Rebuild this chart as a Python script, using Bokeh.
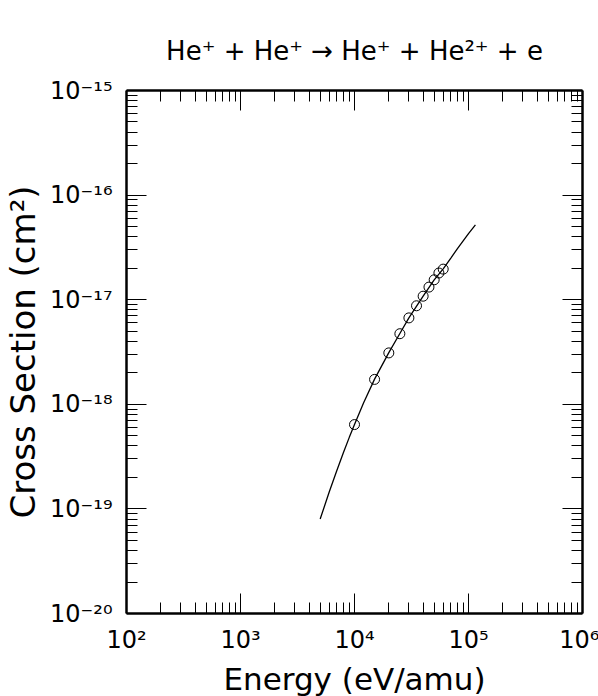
from bokeh.plotting import figure
from bokeh.models import LogAxis, FixedTicker, CustomJSTickFormatter, Range1d
from bokeh.embed import file_html
from bokeh.resources import INLINE

# measured points (Energy in eV/amu, cross section in cm^2)
energy_pts = [1e4, 1.5e4, 2e4, 2.5e4, 3e4, 3.5e4, 4e4, 4.5e4, 5e4, 5.5e4, 6e4]
sigma_pts = [6.4e-19, 1.73e-18, 3.1e-18, 4.73e-18, 6.7e-18, 8.75e-18,
             1.08e-17, 1.32e-17, 1.55e-17, 1.80e-17, 1.96e-17]

# fitted curve
energy_fit = [5e3, 6e3, 7e3, 8e3, 9e3, 1e4, 1.2e4, 1.5e4, 2e4, 2.5e4, 3e4,
              4e4, 5e4, 6e4, 7e4, 8e4, 1e5, 1.15e5]
sigma_fit = [8.0e-20, 1.45e-19, 2.33e-19, 3.46e-19, 4.83e-19, 6.4e-19, 1.03e-18,
             1.74e-18, 3.12e-18, 4.75e-18, 6.7e-18, 1.08e-17, 1.55e-17, 1.97e-17,
             2.5e-17, 3.08e-17, 4.28e-17, 5.2e-17]

x_decades = [1e2, 1e3, 1e4, 1e5, 1e6]
y_decades = [1e-20, 1e-19, 1e-18, 1e-17, 1e-16, 1e-15]
minor_mult = [2, 3, 4, 5, 6, 7, 8, 9]

x_minor = [d * m for d in x_decades[:-1] for m in minor_mult]
y_minor = [d * m for d in y_decades[:-1] for m in minor_mult]

title_text = "He\u207a + He\u207a \u2192 He\u207a + He\u00b2\u207a + e"

FONT = "DejaVu Sans"

p = figure(x_axis_type="log", y_axis_type="log",
           x_range=Range1d(1e2, 1e6), y_range=Range1d(1e-20, 1e-15),
           frame_width=456, frame_height=523,
           min_border_left=117, min_border_right=17,
           min_border_top=90, min_border_bottom=75,
           output_backend="svg", toolbar_location=None,
           title=title_text)

p.title.align = "center"
p.title.text_font = FONT
p.title.text_font_size = "26px"
p.title.text_font_style = "normal"
p.title.text_color = "black"
p.title.standoff = 50

p.outline_line_color = None
p.xgrid.visible = False
p.ygrid.visible = False

sup_code = """
const sup = {"-":"\u207b","0":"\u2070","1":"\u00b9","2":"\u00b2","3":"\u00b3",
             "4":"\u2074","5":"\u2075","6":"\u2076","7":"\u2077","8":"\u2078","9":"\u2079"};
const e = Math.round(Math.log10(tick));
return "10" + String(e).split("").map(c => sup[c]).join("");
"""
fmt = CustomJSTickFormatter(code=sup_code)
blank = CustomJSTickFormatter(code="return '';")

def style_axis(ax, ticks, minor, labels=True):
    ax.ticker = FixedTicker(ticks=ticks, minor_ticks=minor)
    ax.axis_line_width = 2.5
    ax.axis_line_color = "black"
    ax.major_tick_in = 20
    ax.major_tick_out = 0
    ax.minor_tick_in = 11
    ax.minor_tick_out = 0
    ax.major_tick_line_color = "black"
    ax.minor_tick_line_color = "black"
    ax.major_tick_line_width = 1
    ax.minor_tick_line_width = 1
    if labels:
        ax.formatter = fmt
        ax.major_label_text_font = FONT
        ax.major_label_text_font_size = "24px"
        ax.major_label_text_color = "black"
    else:
        ax.formatter = blank
        ax.major_label_standoff = 0

xa = p.xaxis[0]
ya = p.yaxis[0]
style_axis(xa, x_decades, x_minor)
style_axis(ya, y_decades, y_minor)
xa.major_label_standoff = 12
ya.major_label_standoff = 14

xa.axis_label = "Energy (eV/amu)"
xa.axis_label_text_font = FONT
xa.axis_label_text_font_size = "31px"
xa.axis_label_text_font_style = "normal"
xa.axis_label_text_color = "black"
xa.axis_label_standoff = 4

ya.axis_label = "Cross Section (cm\u00b2)"
ya.axis_label_text_font = FONT
ya.axis_label_text_font_size = "34px"
ya.axis_label_text_font_style = "normal"
ya.axis_label_text_color = "black"
ya.axis_label_standoff = 4

top = LogAxis()
style_axis(top, x_decades, x_minor, labels=False)
p.add_layout(top, "above")
right = LogAxis()
style_axis(right, y_decades, y_minor, labels=False)
p.add_layout(right, "right")

p.line(energy_fit, sigma_fit, line_color="black", line_width=1.3)
p.scatter(energy_pts, sigma_pts, marker="circle", size=10,
          fill_color=None, line_color="black", line_width=1)

open("out.html", "w").write(file_html(p, INLINE))
